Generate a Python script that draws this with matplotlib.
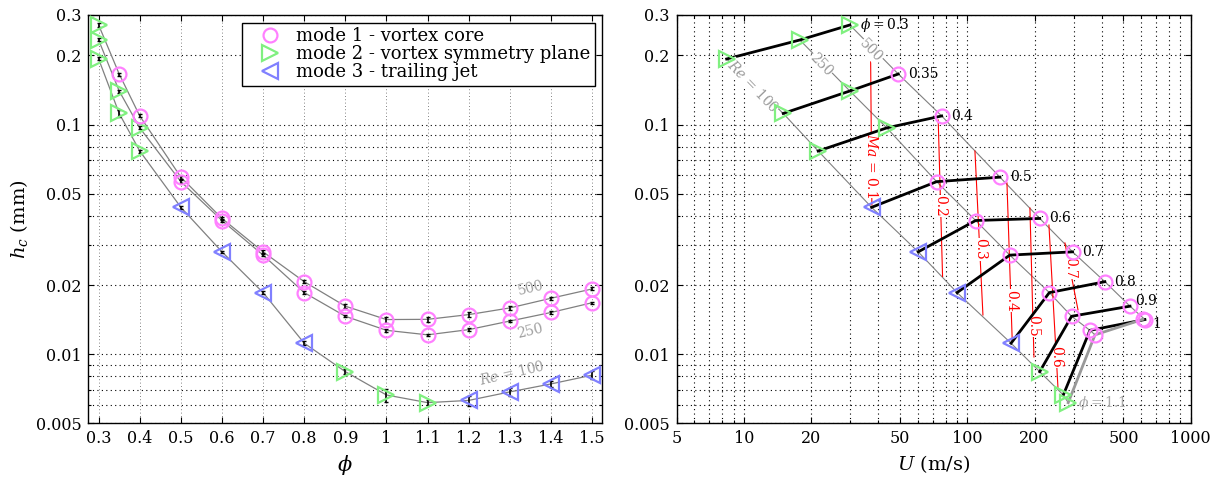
import matplotlib.pyplot as plt
import numpy as np
from matplotlib.lines import Line2D
from matplotlib.ticker import FixedLocator, FixedFormatter, LogLocator, NullFormatter

plt.rcParams['font.family'] = 'DejaVu Serif'
plt.rcParams['mathtext.fontset'] = 'dejavuserif'

# equivalence ratio
phi = [0.3, 0.35, 0.4, 0.5, 0.6, 0.7, 0.8, 0.9, 1.0, 1.1, 1.2, 1.3, 1.4, 1.5]

# critical height h_c (mm) for Re = 100, 250, 500
h_re100 = [0.193, 0.1118, 0.0767, 0.0436, 0.0279, 0.01854, 0.01116, 0.00839,
           0.00664, 0.00615, 0.00629, 0.00685, 0.00742, 0.0081]
h_re250 = [0.2335, 0.140, 0.0967, 0.0564, 0.0382, 0.0270, 0.01854, 0.01462,
           0.0127, 0.01214, 0.01279, 0.01394, 0.01519, 0.01675]
h_re500 = [0.2714, 0.166, 0.109, 0.0590, 0.0390, 0.0279, 0.02068, 0.01618,
           0.01415, 0.01418, 0.01487, 0.0159, 0.01752, 0.01923]

# relative error bars
err_re100 = [0.015, 0.035, 0.015, 0.012, 0.012, 0.015, 0.02, 0.025,
             0.065, 0.027, 0.05, 0.04, 0.033, 0.04]
err_re250 = [0.015, 0.015, 0.015, 0.012, 0.012, 0.012, 0.012, 0.012,
             0.015, 0.012, 0.012, 0.012, 0.012, 0.012]
err_re500 = [0.02, 0.015, 0.015, 0.015, 0.015, 0.015, 0.015, 0.02,
             0.03, 0.025, 0.025, 0.02, 0.015, 0.015]

# instability mode of each point
mode_re100 = [2, 2, 2, 3, 3, 3, 3, 2, 2, 2, 3, 3, 3, 3]
mode_re250 = [2, 2, 2, 1, 1, 1, 1, 1, 1, 1, 1, 1, 1, 1]
mode_re500 = [2, 1, 1, 1, 1, 1, 1, 1, 1, 1, 1, 1, 1, 1]

# flow velocity U (m/s) for phi = 0.3 ... 1.1
U_re100 = [8.37, 15.0, 21.5, 37.3, 60.3, 90.0, 157, 211, 269, 283]
U_re250 = [17.8, 29.8, 43.6, 72.9, 109, 155, 233, 293, 354, 373]
U_re500 = [29.8, 49.1, 76.8, 140, 211, 296, 413, 535, 624, 611]

phi_labels = ['$\\phi = 0.3$', '0.35', '0.4', '0.5', '0.6', '0.7', '0.8', '0.9', '1']

# iso-Mach lines (end points)
mach = [0.1, 0.2, 0.3, 0.4, 0.5, 0.6, 0.7]
mach_U_top = [36.9, 74.1, 108.2, 150.5, 190.7, 232, 273.6]
mach_h_top = [0.207, 0.1047, 0.0767, 0.0557, 0.0433, 0.0365, 0.0305]
mach_U_bot = [37.4, 77.5, 117.5, 159, 198.8, 254.6, 313]
mach_h_bot = [0.0446, 0.0218, 0.01482, 0.0113, 0.00972, 0.00717, 0.0156]
mach_label_pos = [0.74, 0.55, 0.6, 0.74, 0.79, 0.81, 0.37]

colors = {1: '#ff80ff', 2: '#80f080', 3: '#8080ff'}
markers = {1: 'o', 2: '>', 3: '<'}
sizes = {1: 10, 2: 11.5, 3: 11.5}
mode_names = {1: 'mode 1 - vortex core',
              2: 'mode 2 - vortex symmetry plane',
              3: 'mode 3 - trailing jet'}


def draw_markers(ax, x, y, modes):
    x = np.asarray(x)
    y = np.asarray(y)
    modes = np.asarray(modes)
    for m in (1, 2, 3):
        sel = modes == m
        if sel.any():
            ax.plot(x[sel], y[sel], linestyle='none', marker=markers[m],
                    ms=sizes[m], mfc='none', mec=colors[m], mew=1.6, zorder=4)


def style_axis(ax):
    ax.set_yscale('log')
    ax.set_ylim(0.005, 0.3)
    yt = [0.005, 0.01, 0.02, 0.05, 0.1, 0.2, 0.3]
    ax.yaxis.set_major_locator(FixedLocator(yt))
    ax.yaxis.set_major_formatter(FixedFormatter(['0.005', '0.01', '0.02', '0.05',
                                                 '0.1', '0.2', '0.3']))
    ax.yaxis.set_minor_locator(LogLocator(base=10, subs=np.arange(2, 10)))
    ax.yaxis.set_minor_formatter(NullFormatter())
    ax.tick_params(which='both', direction='in', top=True, right=True,
                   labelsize=11.5, width=0.8, pad=5)
    ax.tick_params(which='major', length=4)
    ax.tick_params(which='minor', length=2.5)
    ax.grid(True, which='both', linestyle=(0, (1, 3)), color='k', linewidth=0.8)
    ax.set_axisbelow(True)
    for s in ax.spines.values():
        s.set_linewidth(1.0)


fig = plt.figure(figsize=(12.12, 4.79), dpi=100)
ax1 = fig.add_axes([0.0729, 0.1163, 0.4241, 0.8524])
ax2 = fig.add_axes([0.5583, 0.1163, 0.4241, 0.8524])

# ---- left panel: h_c vs phi
for h, err, modes in [(h_re100, err_re100, mode_re100),
                      (h_re250, err_re250, mode_re250),
                      (h_re500, err_re500, mode_re500)]:
    ax1.plot(phi, h, color='#808080', lw=0.9, zorder=2)
    ax1.errorbar(phi, h, yerr=np.array(h) * np.array(err), fmt='none',
                 ecolor='k', elinewidth=1.2, capsize=1.5, capthick=1.0, zorder=3)
    draw_markers(ax1, phi, h, modes)

style_axis(ax1)
ax1.set_xlim(0.275, 1.525)
xt = [0.3, 0.4, 0.5, 0.6, 0.7, 0.8, 0.9, 1.0, 1.1, 1.2, 1.3, 1.4, 1.5]
ax1.xaxis.set_major_locator(FixedLocator(xt))
ax1.xaxis.set_major_formatter(FixedFormatter(['0.3', '0.4', '0.5', '0.6', '0.7', '0.8',
                                              '0.9', '1', '1.1', '1.2', '1.3', '1.4', '1.5']))
ax1.xaxis.grid(True, which='major', color='0.35', linewidth=0.6)
ax1.set_xlabel('$\\phi$', fontsize=15, labelpad=4)
ax1.set_ylabel('$h_c$ (mm)', fontsize=14)

ax1.text(1.35, 0.0194, '500', rotation=13, color='#a0a0a0', fontsize=10,
         ha='center', va='center')
ax1.text(1.35, 0.01264, '250', rotation=13, color='#a0a0a0', fontsize=10,
         ha='center', va='center')
ax1.text(1.3066, 0.00829, '$Re$ = 100', rotation=13, color='#a0a0a0', fontsize=10,
         ha='center', va='center')

handles = [Line2D([], [], linestyle='none', marker=markers[m], ms=sizes[m],
                  mfc='none', mec=colors[m], mew=1.6) for m in (1, 2, 3)]
leg = ax1.legend(handles, [mode_names[m] for m in (1, 2, 3)], loc='upper right',
                 bbox_to_anchor=(0.986, 0.981), borderaxespad=0, fontsize=13,
                 fancybox=False, framealpha=1, edgecolor='k', borderpad=0.25,
                 labelspacing=0.0, handlelength=2.6, handletextpad=0.15)
leg.get_frame().set_linewidth(1.0)

# ---- right panel: h_c vs U
n = len(U_re100)
for U, h in [(U_re100, h_re100[:n]), (U_re250, h_re250[:n]), (U_re500, h_re500[:n])]:
    ax2.plot(U, h, color='#808080', lw=0.8, zorder=2)

for Ut, ht, Ub, hb, ma, t in zip(mach_U_top, mach_h_top, mach_U_bot, mach_h_bot,
                                 mach, mach_label_pos):
    ax2.plot([Ut, Ub], [ht, hb], color='red', lw=0.8, zorder=2)
    Ul = Ut * (Ub / Ut) ** t
    hl = ht * (hb / ht) ** t
    txt = '$Ma$ = %g' % ma if ma == 0.1 else '%g' % ma
    ax2.text(Ul, hl, txt, rotation=-90, color='red', fontsize=10, ha='center',
             va='center', zorder=3,
             bbox=dict(facecolor='white', edgecolor='none', pad=0.3))

for i in range(n):
    c = '#999999' if phi[i] > 1.05 else 'k'
    ax2.plot([U_re100[i], U_re250[i], U_re500[i]],
             [h_re100[i], h_re250[i], h_re500[i]], color=c, lw=2, zorder=3)

draw_markers(ax2, U_re100, h_re100[:n], mode_re100[:n])
draw_markers(ax2, U_re250, h_re250[:n], mode_re250[:n])
draw_markers(ax2, U_re500, h_re500[:n], mode_re500[:n])

for i, lab in enumerate(phi_labels):
    off = (7, 0)
    if lab == '0.9':
        off = (4, 4)
    elif lab == '1':
        off = (5, -3)
    ax2.annotate(lab, (U_re500[i], h_re500[i]), xytext=off, textcoords='offset points',
                 fontsize=10, ha='left', va='center', zorder=5)
ax2.annotate('$\\phi = 1.1$', (U_re100[n - 1], h_re100[n - 1]), xytext=(7, 0),
             textcoords='offset points', fontsize=10, ha='left', va='center',
             color='#aaaaaa', zorder=5)

re_label_bbox = dict(facecolor='white', edgecolor='none', pad=0.3)
ax2.text(37.0, 0.209, '500', rotation=-46, color='#999999', fontsize=10,
         ha='center', va='center', bbox=re_label_bbox, zorder=3)
ax2.text(22.1, 0.1817, '250', rotation=-46, color='#999999', fontsize=10,
         ha='center', va='center', bbox=re_label_bbox, zorder=3)
ax2.text(10.97, 0.147, '$Re$ = 100', rotation=-46, color='#999999', fontsize=10,
         ha='center', va='center', bbox=re_label_bbox, zorder=3)

style_axis(ax2)
ax2.set_xscale('log')
ax2.set_xlim(5, 1000)
ux = [5, 10, 20, 50, 100, 200, 500, 1000]
ax2.xaxis.set_major_locator(FixedLocator(ux))
ax2.xaxis.set_major_formatter(FixedFormatter([str(u) for u in ux]))
ax2.xaxis.set_minor_locator(LogLocator(base=10, subs=np.arange(1, 10)))
ax2.xaxis.set_minor_formatter(NullFormatter())
ax2.set_xlabel('$U$ (m/s)', fontsize=14, labelpad=4)

fig.savefig('out.png', dpi=100)
